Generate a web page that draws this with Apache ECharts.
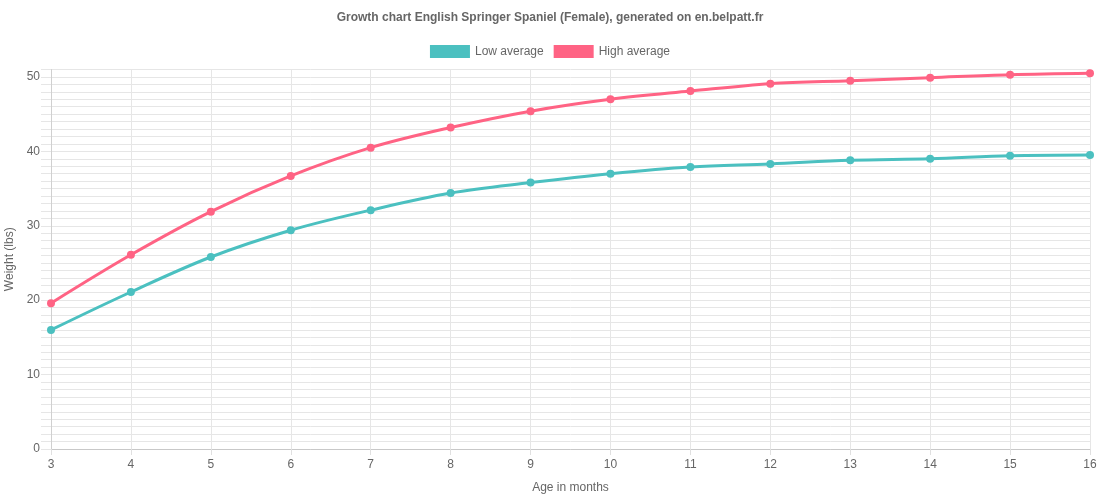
<!DOCTYPE html>
<html><head><meta charset="utf-8">
<script src="https://cdn.jsdelivr.net/npm/echarts@6/dist/echarts.min.js"></script>
<style>html,body{margin:0;padding:0;background:#fff}#c{width:1100px;height:500px}</style>
</head><body><div id="c"></div>
<script>
const months = ['3','4','5','6','7','8','9','10','11','12','13','14','15','16'];
const lowAverage = [16.0, 21.1, 25.8, 29.4, 32.1, 34.4, 35.8, 37.0, 37.9, 38.3, 38.8, 39.0, 39.4, 39.5];
const highAverage = [19.6, 26.1, 31.9, 36.7, 40.5, 43.2, 45.4, 47.0, 48.1, 49.1, 49.5, 49.9, 50.3, 50.5];
const titleText = 'Growth chart English Springer Spaniel (Female), generated on en.belpatt.fr';

const font = '"Liberation Sans", Arial, Helvetica, sans-serif';
const chart = echarts.init(document.getElementById('c'), null, {renderer: 'canvas'});
chart.setOption({
  animation: false,
  textStyle: {fontFamily: font},
  title: {text: titleText, left: 'center', top: 7,
    textStyle: {fontFamily: font, fontSize: 12, fontWeight: 'bold', color: '#666'}},
  legend: {top: 40, left: 'center', itemWidth: 40, itemHeight: 13, itemGap: 10, icon: 'rect',
    textStyle: {fontFamily: font, fontSize: 12, color: '#666'},
    data: ['Low average', 'High average']},
  grid: {left: 51, right: 10, top: 69.5, bottom: 51, containLabel: false, outerBoundsMode: 'none'},
  xAxis: {type: 'category', data: months, boundaryGap: false,
    name: 'Age in months', nameLocation: 'middle', nameGap: 33,
    nameTextStyle: {fontFamily: font, fontSize: 12, color: '#666'},
    axisLine: {lineStyle: {color: '#c8c8c8'}},
    axisTick: {show: true, length: 6, lineStyle: {color: '#e0e0e0'}},
    axisLabel: {color: '#666', fontSize: 12, margin: 10},
    splitLine: {show: true, lineStyle: {color: '#e6e6e6'}}},
  yAxis: {type: 'value', min: 0, max: 51, interval: 1,
    name: 'Weight (lbs)', nameLocation: 'middle', nameGap: 33,
    nameTextStyle: {fontFamily: font, fontSize: 12, color: '#666'},
    axisLine: {show: true, lineStyle: {color: '#d0d0d0'}},
    axisTick: {show: true, length: 10, lineStyle: {color: '#e6e6e6'}},
    axisLabel: {color: '#666', fontSize: 12, margin: 11,
      formatter: v => (v % 10 === 0 ? String(v) : '')},
    splitLine: {show: true, lineStyle: {color: '#e6e6e6'}}},
  series: [
    {name: 'Low average', type: 'line', data: lowAverage, smooth: 0.35,
     symbol: 'circle', symbolSize: 8, color: '#4BC0C0',
     lineStyle: {width: 3, color: '#4BC0C0'}, itemStyle: {color: '#4BC0C0'}},
    {name: 'High average', type: 'line', data: highAverage, smooth: 0.35,
     symbol: 'circle', symbolSize: 8, color: '#FF6384',
     lineStyle: {width: 3, color: '#FF6384'}, itemStyle: {color: '#FF6384'}}
  ]
});
</script></body></html>
